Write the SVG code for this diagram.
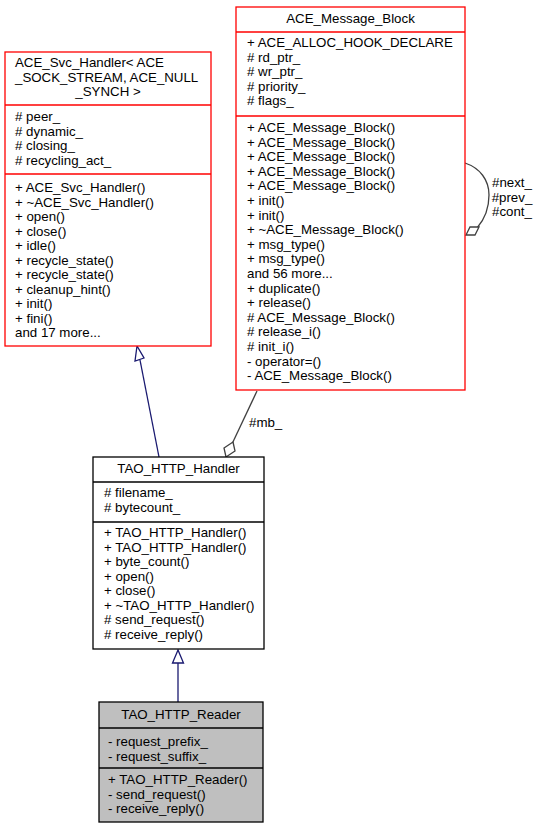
<svg xmlns="http://www.w3.org/2000/svg" width="539" height="829" viewBox="0 0 539 829">
<style>
text{font-family:"Liberation Sans",Arial,sans-serif;font-size:13.3px;fill:#000}
.c{text-anchor:middle}
.red{fill:#fff;stroke:#ff0000;stroke-width:1.3}
.redl{stroke:#ff0000;stroke-width:1.3}
.blk{fill:#fff;stroke:#000;stroke-width:1.3}
.blkl{stroke:#000;stroke-width:1.3}
.gry{fill:#bfbfbf;stroke:#000;stroke-width:1.3}
.inh{fill:none;stroke:#191970;stroke-width:1.3}
.inhh{fill:#fff;stroke:#191970;stroke-width:1.3}
.agg{fill:none;stroke:#404040;stroke-width:1.3}
.aggh{fill:#fff;stroke:#404040;stroke-width:1.3}
</style>
<rect width="539" height="829" fill="#fff"/>
<g id="connectors">
<path class="inh" d="M178,702 L178,663"/>
<polygon class="inhh" points="178,650 172.5,663 183.5,663"/>
<path class="inh" d="M159,457 L140,360"/>
<polygon class="inhh" points="137,346 135,361 144,358"/>
<path class="agg" d="M257,391 L232,444"/>
<polygon class="aggh" points="233,442 235,451 226,457 224,448"/>
<text x="249" y="427">#mb_</text>
<path class="agg" d="M465,163 C480,168 489,180 489,195 C489,210 484,220 477,228"/>
<polygon class="aggh" points="479,227 475,235 466,235 470,227"/>
<text class="c" x="512" y="187">#next_</text>
<text class="c" x="512" y="201.5">#prev_</text>
<text class="c" x="512" y="216">#cont_</text>
</g>
<g id="svc_handler">
<rect class="red" x="5" y="52" width="206" height="294"/>
<line class="redl" x1="5" y1="105" x2="211" y2="105"/>
<line class="redl" x1="5" y1="174" x2="211" y2="174"/>
<text x="15" y="67">ACE_Svc_Handler&lt; ACE</text>
<text x="15" y="81.5">_SOCK_STREAM, ACE_NULL</text>
<text class="c" x="108" y="96">_SYNCH &gt;</text>
<text x="15" y="121"># peer_</text>
<text x="15" y="135.5"># dynamic_</text>
<text x="15" y="150"># closing_</text>
<text x="15" y="164.5"># recycling_act_</text>
<text x="15" y="192">+ ACE_Svc_Handler()</text>
<text x="15" y="206.5">+ ~ACE_Svc_Handler()</text>
<text x="15" y="221">+ open()</text>
<text x="15" y="235.5">+ close()</text>
<text x="15" y="250">+ idle()</text>
<text x="15" y="264.5">+ recycle_state()</text>
<text x="15" y="279">+ recycle_state()</text>
<text x="15" y="293.5">+ cleanup_hint()</text>
<text x="15" y="308">+ init()</text>
<text x="15" y="322.5">+ fini()</text>
<text x="15" y="337">and 17 more...</text>
</g>
<g id="message_block">
<rect class="red" x="236" y="7" width="229" height="383"/>
<line class="redl" x1="236" y1="32" x2="465" y2="32"/>
<line class="redl" x1="236" y1="116" x2="465" y2="116"/>
<text class="c" x="350.5" y="23">ACE_Message_Block</text>
<text x="247" y="47">+ ACE_ALLOC_HOOK_DECLARE</text>
<text x="247" y="61.5"># rd_ptr_</text>
<text x="247" y="76"># wr_ptr_</text>
<text x="247" y="90.5"># priority_</text>
<text x="247" y="105"># flags_</text>
<text x="247" y="132">+ ACE_Message_Block()</text>
<text x="247" y="146.6">+ ACE_Message_Block()</text>
<text x="247" y="161.2">+ ACE_Message_Block()</text>
<text x="247" y="175.8">+ ACE_Message_Block()</text>
<text x="247" y="190.4">+ ACE_Message_Block()</text>
<text x="247" y="205">+ init()</text>
<text x="247" y="219.6">+ init()</text>
<text x="247" y="234.2">+ ~ACE_Message_Block()</text>
<text x="247" y="248.8">+ msg_type()</text>
<text x="247" y="263.4">+ msg_type()</text>
<text x="247" y="278">and 56 more...</text>
<text x="247" y="292.6">+ duplicate()</text>
<text x="247" y="307.2">+ release()</text>
<text x="247" y="321.8"># ACE_Message_Block()</text>
<text x="247" y="336.4"># release_i()</text>
<text x="247" y="351"># init_i()</text>
<text x="247" y="365.6">- operator=()</text>
<text x="247" y="380.2">- ACE_Message_Block()</text>
</g>
<g id="http_handler">
<rect class="blk" x="93" y="457" width="171" height="192"/>
<line class="blkl" x1="93" y1="482" x2="264" y2="482"/>
<line class="blkl" x1="93" y1="522" x2="264" y2="522"/>
<text class="c" x="178.5" y="473">TAO_HTTP_Handler</text>
<text x="104" y="497"># filename_</text>
<text x="104" y="511.5"># bytecount_</text>
<text x="104" y="537">+ TAO_HTTP_Handler()</text>
<text x="104" y="551.5">+ TAO_HTTP_Handler()</text>
<text x="104" y="566">+ byte_count()</text>
<text x="104" y="580.5">+ open()</text>
<text x="104" y="595">+ close()</text>
<text x="104" y="609.5">+ ~TAO_HTTP_Handler()</text>
<text x="104" y="624"># send_request()</text>
<text x="104" y="638.5"># receive_reply()</text>
</g>
<g id="http_reader">
<rect class="gry" x="99" y="702" width="164" height="120"/>
<line class="blkl" x1="99" y1="728" x2="263" y2="728"/>
<line class="blkl" x1="99" y1="768" x2="263" y2="768"/>
<text class="c" x="181" y="719">TAO_HTTP_Reader</text>
<text x="108" y="746">- request_prefix_</text>
<text x="108" y="760.5">- request_suffix_</text>
<text x="108" y="784">+ TAO_HTTP_Reader()</text>
<text x="108" y="798.5">- send_request()</text>
<text x="108" y="813">- receive_reply()</text>
</g>
</svg>
